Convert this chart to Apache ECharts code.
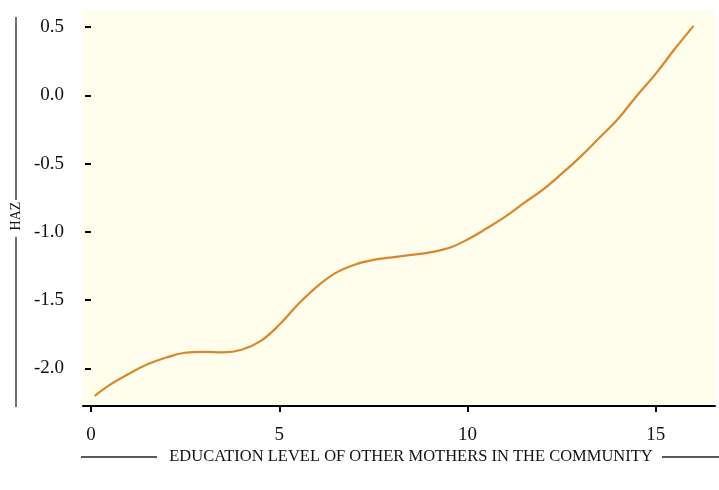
<!DOCTYPE html>
<html>
<head>
<meta charset="utf-8">
<script src="https://cdn.jsdelivr.net/npm/echarts@6/dist/echarts.min.js"></script>
<style>
  html, body { margin: 0; padding: 0; background: #fff; }
  #chart { width: 719px; height: 490px; }
</style>
</head>
<body>
<div id="chart"></div>
<script>
// 母亲受教育年限 vs HAZ
const eduLevels = [0.1, 0.5, 1, 1.5, 2, 2.5, 3, 3.5, 4, 4.5, 5, 5.5, 6, 6.5, 7, 7.5, 8,
  8.5, 9, 9.5, 10, 10.5, 11, 11.5, 12, 12.5, 13, 13.5, 14, 14.5, 15, 15.5, 16]
const hazValues = [-2.20, -2.12, -2.04, -1.97, -1.92, -1.885, -1.878, -1.882, -1.863, -1.80, -1.68,
  -1.53, -1.40, -1.30, -1.24, -1.205, -1.186, -1.168, -1.149, -1.118, -1.055, -0.975, -0.888,
  -0.787, -0.69, -0.573, -0.448, -0.31, -0.17, 0.0, 0.16, 0.34, 0.51]
const xTicks = [0, 5, 10, 15]
const yTicks = [-2.0, -1.5, -1.0, -0.5, 0.0, 0.5]
const xTitle = 'EDUCATION LEVEL OF OTHER MOTHERS IN THE COMMUNITY'
const yTitle = 'HAZ'

const font = 'Liberation Serif'
const chart = echarts.init(document.getElementById('chart'))
const option = {
  animation: false,
  grid: {
    left: 83,
    right: 4,
    top: 10,
    bottom: 84,
    show: true,
    backgroundColor: '#fffdeb',
    borderWidth: 0
  },
  xAxis: {
    type: 'value',
    min: -0.212,
    max: 16.57,
    splitLine: { show: false },
    axisLine: { show: true, onZero: false, lineStyle: { color: '#000', width: 2 } },
    axisTick: { show: true, length: 6, customValues: xTicks, lineStyle: { color: '#000', width: 2 } },
    axisLabel: {
      color: '#111',
      fontFamily: font,
      fontSize: 19,
      margin: 20,
      hideOverlap: false,
      customValues: xTicks,
      formatter: v => String(v)
    },
    axisPointer: { show: false }
  },
  yAxis: {
    type: 'value',
    min: -2.275,
    max: 0.626,
    splitLine: { show: false },
    axisLine: { show: false },
    axisTick: { show: true, length: 6, customValues: yTicks, lineStyle: { color: '#000', width: 2 } },
    axisLabel: {
      color: '#111',
      fontFamily: font,
      fontSize: 19,
      margin: 19,
      hideOverlap: false,
      customValues: yTicks,
      formatter: v => v.toFixed(1)
    }
  },
  graphic: [
    { type: 'line', shape: { x1: 16, y1: 17, x2: 16, y2: 200 }, style: { stroke: '#222', lineWidth: 1.3 } },
    { type: 'line', shape: { x1: 16, y1: 237, x2: 16, y2: 407 }, style: { stroke: '#222', lineWidth: 1.3 } },
    {
      type: 'text', x: 16, y: 216, rotation: Math.PI / 2,
      style: { text: yTitle, font: '14px "' + font + '"', fill: '#111', align: 'center', verticalAlign: 'middle' }
    },
    { type: 'line', shape: { x1: 81, y1: 457, x2: 157, y2: 457 }, style: { stroke: '#222', lineWidth: 1.3 } },
    { type: 'line', shape: { x1: 662, y1: 457, x2: 719, y2: 457 }, style: { stroke: '#222', lineWidth: 1.3 } },
    {
      type: 'text', x: 411, y: 457,
      style: { text: xTitle, font: '16.5px "' + font + '"', fill: '#111', align: 'center', verticalAlign: 'middle' }
    }
  ],
  series: [{
    type: 'line',
    data: eduLevels.map((x, i) => [x, hazValues[i]]),
    smooth: 0.4,
    showSymbol: false,
    lineStyle: { color: '#d8882a', width: 2.2 }
  }]
}
chart.setOption(option)
</script>
</body>
</html>
